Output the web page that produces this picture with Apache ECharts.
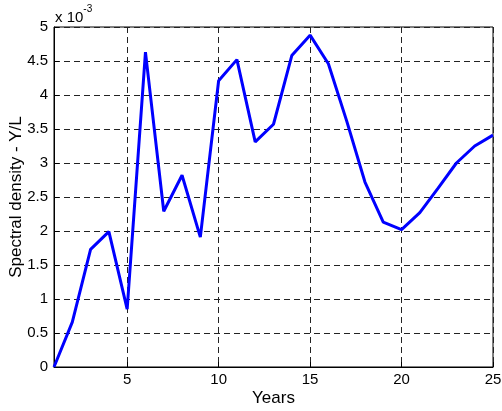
<!DOCTYPE html>
<html>
<head>
<meta charset="utf-8">
<script src="https://cdn.jsdelivr.net/npm/echarts@6/dist/echarts.min.js"></script>
<style>
  html, body { margin: 0; padding: 0; background: #fff; }
  #chart { width: 502px; height: 411px; }
</style>
</head>
<body>
<div id="chart"></div>
<script>
// years 1..25, spectral density in units of 1e-3
var years = [1, 2, 3, 4, 5, 6, 7, 8, 9, 10, 11, 12, 13, 14, 15, 16, 17, 18, 19, 20, 21, 22, 23, 24, 25];
var density = [0, 0.66, 1.73, 1.99, 0.85, 4.63, 2.29, 2.82, 1.91, 4.21, 4.52, 3.31, 3.57, 4.58, 4.88,
  4.46, 3.62, 2.72, 2.13, 2.02, 2.27, 2.63, 3.0, 3.25, 3.41];
var xTicks = [5, 10, 15, 20, 25];

var points = years.map(function (y, i) { return [y, density[i]]; });

var gridDash = { color: '#222', width: 1, type: [6, 4] };
var font = 'Liberation Sans, Arial, sans-serif';

var chart = echarts.init(document.getElementById('chart'));
chart.setOption({
  animation: false,
  grid: {
    left: 54, right: 9, top: 27, bottom: 44,
    outerBoundsMode: 'none',
    containLabel: false,
    show: true, borderColor: '#000', borderWidth: 1, backgroundColor: '#fff'
  },
  xAxis: {
    type: 'value',
    min: 1,
    max: 25,
    name: 'Years',
    nameLocation: 'middle',
    nameGap: 23,
    nameMoveOverlap: false,
    nameTextStyle: { color: '#000', fontSize: 17, fontFamily: font },
    axisLine: { lineStyle: { color: '#000', width: 1 } },
    axisTick: { inside: true, length: 5, customValues: xTicks, lineStyle: { color: '#000' } },
    axisLabel: { customValues: xTicks, color: '#000', fontSize: 15, fontFamily: font, margin: 5 },
    splitLine: { show: true, lineStyle: gridDash }
  },
  yAxis: {
    type: 'value',
    min: 0,
    max: 5,
    interval: 0.5,
    name: 'Spectral density - Y/L',
    nameLocation: 'middle',
    nameGap: 29,
    nameMoveOverlap: false,
    nameTextStyle: { color: '#000', fontSize: 17, fontFamily: font },
    axisLine: { show: true, lineStyle: { color: '#000', width: 1 } },
    axisTick: { show: true, inside: true, length: 5, lineStyle: { color: '#000' } },
    axisLabel: { color: '#000', fontSize: 15, fontFamily: font, margin: 6 },
    splitLine: { show: true, lineStyle: gridDash }
  },
  graphic: [{
    type: 'text',
    left: 55,
    top: 4,
    style: {
      text: '{a|x 10}{s|-3}',
      rich: {
        a: { fontSize: 15, fontFamily: font, fill: '#000', padding: [6, 0, 0, 0] },
        s: { fontSize: 10, fontFamily: font, fill: '#000', verticalAlign: 'top' }
      }
    }
  }],
  series: [{
    type: 'line',
    data: points,
    symbol: 'none',
    lineStyle: { color: '#0000ff', width: 3 }
  }]
});
</script>
</body>
</html>
